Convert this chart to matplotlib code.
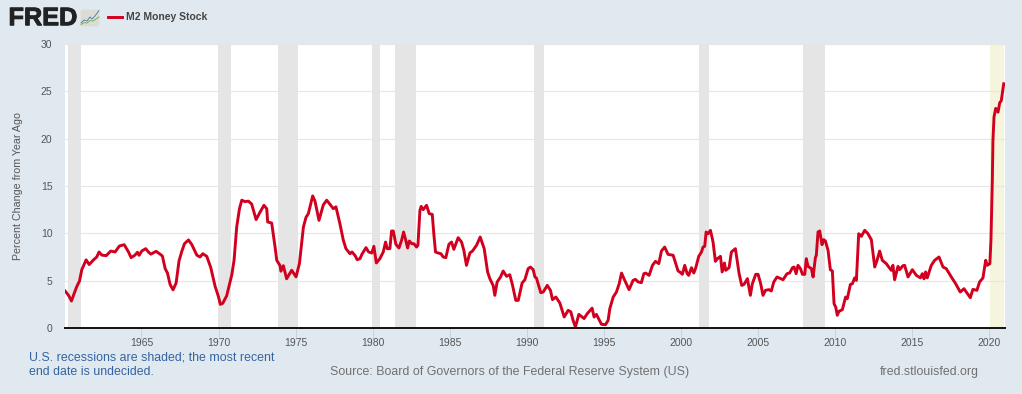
import matplotlib
matplotlib.use("Agg")
import matplotlib.pyplot as plt
import matplotlib.patheffects as pe
from matplotlib.patches import FancyBboxPatch

# dates; X_CAL aligns them with the tick positions
X_CAL = 0.05
years_read = [1960.0,1960.22,1960.41,1960.58,1960.76,1960.93,1961.08,1961.36,1961.56,1961.84,1962.05,1962.2,1962.38,1962.66,1962.96,1963.24,1963.52,1963.83,1964.11,1964.28,1964.54,1964.69,1964.8,1964.97,1965.23,1965.4,1965.56,1965.9,1966.16,1966.31,1966.49,1966.64,1966.81,1967.0,1967.2,1967.39,1967.57,1967.74,1968.0,1968.21,1968.54,1968.75,1968.93,1969.19,1969.45,1969.73,1969.94,1970.07,1970.22,1970.48,1970.81,1970.96,1971.13,1971.31,1971.46,1971.67,1971.89,1972.1,1972.39,1972.65,1972.9,1973.08,1973.14,1973.4,1973.62,1973.73,1973.94,1974.0,1974.16,1974.37,1974.7,1974.98,1975.2,1975.46,1975.63,1975.78,1976.06,1976.21,1976.47,1976.75,1976.97,1977.18,1977.4,1977.57,1977.83,
1978.05,1978.22,1978.48,1978.61,1978.8,1978.95,1979.13,1979.26,1979.52,1979.69,1979.9,1980.03,1980.19,1980.42,1980.64,1980.79,1980.9,1981.07,1981.18,1981.29,1981.46,1981.66,1981.83,1981.96,1982.09,1982.22,1982.33,1982.5,1982.63,1982.8,1982.89,1983.02,1983.1,1983.23,1983.45,1983.62,1983.82,1983.93,1984.03,1984.2,1984.38,1984.53,1984.7,1984.9,1985.07,1985.22,1985.5,1985.72,1985.87,1986.04,1986.26,1986.43,1986.69,1986.93,1987.19,1987.41,1987.56,1987.77,1987.88,1988.03,1988.25,1988.42,1988.64,1988.85,1989.03,1989.24,1989.4,1989.65,1989.83,1990.04,1990.19,1990.37,1990.48,1990.58,1990.86,1991.02,1991.28,1991.49,1991.62,1991.84,1992.1,1992.38,1992.64,1992.81,1992.96,1993.11,1993.33,1993.67,1993.87,1994.19,1994.32,1994.47,1994.8,1995.06,1995.23,1995.34,1995.56,1995.77,1995.95,1996.1,1996.31,1996.59,1996.85,1997.0,1997.18,1997.39,1997.55,1997.67,1997.89,1998.11,1998.3,1998.52,1998.69,1998.9,1999.12,1999.45,1999.77,
1999.88,2000.05,2000.2,2000.36,2000.46,2000.64,2000.79,2000.92,2001.11,2001.29,2001.39,2001.5,2001.59,2001.72,2001.87,2002.04,2002.19,2002.32,2002.52,2002.63,2002.78,2002.86,2003.08,2003.23,2003.49,2003.73,2003.9,2004.05,2004.27,2004.46,2004.59,2004.81,2004.96,2005.13,2005.28,2005.44,2005.67,2005.82,2005.98,2006.19,2006.58,2006.84,2007.01,2007.19,2007.3,2007.43,2007.55,2007.71,2007.84,2007.99,2008.09,2008.2,2008.42,2008.53,2008.68,2008.74,2008.85,2008.96,2009.11,2009.22,2009.33,2009.5,2009.65,2009.78,2009.89,2010.0,2010.1,2010.21,2010.43,2010.64,2010.75,2010.95,2011.08,2011.23,2011.34,2011.49,2011.66,2011.88,2012.09,2012.31,2012.53,2012.68,2012.85,2013.02,2013.28,2013.6,2013.71,2013.82,2014.04,2014.15,2014.36,2014.47,2014.69,2014.97,2015.23,2015.49,2015.62,2015.73,2015.83,2015.94,2016.2,2016.42,2016.7,2016.96,2017.17,2017.5,2017.78,2018.08,2018.32,2018.73,2018.9,2019.16,2019.33,2019.55,2019.73,2019.83,2020.0,2020.07,2020.16,2020.2,2020.27,2020.38,2020.53,2020.64,2020.74,2020.9]

values = [3.9,3.45,2.85,3.63,4.4,4.96,6.16,7.2,6.7,7.2,7.5,8.03,7.7,7.64,8.13,8.03,8.66,8.8,8.03,7.43,7.71,8.0,7.68,8.13,8.38,8.03,7.8,8.1,7.8,7.6,6.27,5.8,4.6,4.03,4.75,7.1,8.1,8.9,9.3,8.84,7.7,7.5,7.85,7.57,6.37,4.4,3.35,2.5,2.6,3.4,5.6,7.15,10.67,12.6,13.5,13.35,13.4,13.1,11.45,12.25,12.96,12.6,11.2,11.09,8.55,7.15,6.6,6.0,6.58,5.2,6.1,5.4,6.8,10.67,11.7,12.08,13.95,13.4,11.37,13.0,13.5,13.07,12.6,12.8,11.0,
9.26,8.38,7.85,8.03,7.68,7.22,7.32,7.8,8.49,8.03,7.92,8.63,6.87,7.32,8.03,9.08,8.38,8.38,10.25,10.25,8.84,8.45,9.26,10.14,9.33,8.45,9.19,8.9,8.9,8.55,8.73,12.43,12.85,12.5,12.96,12.08,12.0,9.79,8.03,7.92,7.85,7.5,7.43,8.84,9.08,8.31,9.54,9.08,8.2,6.62,7.92,8.13,8.73,9.61,8.38,5.92,5.2,4.5,3.45,4.86,5.39,6.02,5.46,5.63,4.5,2.92,2.92,4.75,5.1,6.27,6.44,6.16,5.39,5.28,3.73,3.8,4.5,3.98,3.0,3.27,2.64,1.16,1.87,1.7,0.8,0.1,1.44,1.0,1.5,2.1,1.16,1.44,0.39,0.35,0.8,2.04,3.27,3.8,4.68,5.8,5.03,4.05,5.03,5.14,4.86,4.79,5.74,5.8,5.56,6.62,7.04,6.8,8.13,8.55,7.78,7.68,6.02,
5.92,5.67,6.62,5.74,5.56,6.37,5.81,6.37,7.57,8.03,8.55,8.63,10.14,9.96,10.32,9.08,7.04,7.32,7.57,5.92,6.87,6.09,6.37,8.03,8.38,5.74,4.5,4.61,5.21,3.45,4.68,5.67,5.67,4.68,3.45,3.98,4.05,3.91,4.86,5.39,5.1,5.74,5.81,6.37,6.44,5.74,6.62,6.27,5.67,5.67,7.32,6.51,6.27,5.39,7.43,7.68,10.14,10.25,8.8,9.33,9.19,8.2,6.16,6.02,2.57,2.2,1.34,1.76,1.94,3.27,3.1,4.6,4.68,5.3,5.03,9.96,9.68,10.32,9.96,9.33,6.44,7.15,8.13,7.15,6.8,6.09,6.62,5.1,6.51,6.16,6.58,6.62,5.39,6.16,5.56,5.3,5.74,5.2,5.92,5.3,6.62,7.15,7.5,6.44,6.27,5.39,4.68,3.8,4.15,3.2,4.08,3.98,4.86,5.28,7.15,6.62,6.8,9.26,15.6,19.8,22.3,23.2,22.8,23.8,24.0,25.8]

recession_starts = [1960.26,1969.95,1973.86,1979.98,1981.45,1990.48,2001.15,2007.91]
recession_ends = [1961.09,1970.83,1975.14,1980.48,1982.81,1991.13,2001.81,2009.38]
undecided_start = 2020.05
x_ticks = [1965,1970,1975,1980,1985,1990,1995,2000,2005,2010,2015,2020]
y_ticks = [0,5,10,15,20,25,30]

years = [y + X_CAL for y in years_read]

W, H = 1022, 394
BG = "#e1e9f0"
RED = "#d2001f"
XMIN, XMAX = 1960.04, 2021.0
fig = plt.figure(figsize=(W/100, H/100), dpi=100, facecolor=BG)
plt.rcParams["font.family"] = ["Liberation Sans", "DejaVu Sans"]

def T(x, y, s, **kw):
    return fig.text(x/W, 1-y/H, s, **kw)

ax = fig.add_axes([65/W, 1-328/H, 939.5/W, 284/H], facecolor="white")
ax.set_xlim(XMIN, XMAX)
ax.set_ylim(0, 30)
ax.grid(axis="y", color="#e6e6e6", lw=0.8, zorder=1)
ax.set_axisbelow(True)
for s, e in zip(recession_starts, recession_ends):
    ax.axvspan(s, e, color="#e5e5e5", lw=0, zorder=1.5)
ax.axvspan(undecided_start, XMAX, color="#f5f4dc", lw=0, zorder=0.5)
ax.plot(years, values, color=RED, lw=2.1, solid_joinstyle="round", zorder=3)

for k in ("top", "left", "right"):
    ax.spines[k].set_visible(False)
ax.spines["bottom"].set_color("#111111")
ax.spines["bottom"].set_linewidth(1.4)
ax.spines["bottom"].set_zorder(4)
ax.set_xticks(x_ticks)
ax.set_yticks(y_ticks)
ax.tick_params(axis="x", length=8, width=0.7, color="#c5d3e2", labelsize=7.5, labelcolor="#555555", pad=-0.5)
ax.tick_params(axis="y", length=0, labelsize=7.5, labelcolor="#555555", pad=9)
ax.set_ylabel("Percent Change from Year Ago", fontsize=7.7, color="#555555")
ax.yaxis.set_label_coords((23-65)/939.5, 0.5)

# header
T(8.5, 18.2, "FRED", fontsize=18.2, fontweight="bold", color="#222222", va="center", ha="left",
  path_effects=[pe.withStroke(linewidth=0.7, foreground="#222222")])
icon = fig.add_axes([80/W, 1-27/H, 20/W, 18/H])
icon.axis("off"); icon.set_xlim(0, 10); icon.set_ylim(0, 9)
icon.add_patch(FancyBboxPatch((0.3, 0.3), 9.4, 8.4, boxstyle="round,pad=0,rounding_size=1",
                              fc="#dcdcd6", ec="none"))
icon.plot([0.5,2,3.5,5,6,7.5,9.5], [2,3.5,3,5,4,5.5,8.3], color="#3d7f9e", lw=0.6)
icon.plot([0.5,2,3.5,5,6.5,8,9.5], [1.2,2.2,2,3.2,3,4,5], color="#6fa84a", lw=0.6)
fig.add_artist(plt.Line2D([108/W, 122/W], [1-17/H, 1-17/H], color=RED, lw=2.1))
T(126, 17, "M2 Money Stock", fontsize=7.5, fontweight="bold", color="#444444", va="center", ha="left")

# footer
T(29, 357.5, "U.S. recessions are shaded; the most recent", fontsize=8.92, color="#3563a0", va="center")
T(29, 372, "end date is undecided.", fontsize=8.92, color="#3563a0", va="center")
T(330, 372, "Source: Board of Governors of the Federal Reserve System (US)", fontsize=8.92, color="#707070", va="center")
T(880, 372, "fred.stlouisfed.org", fontsize=8.92, color="#707070", va="center")

fig.savefig("out.png", dpi=100, facecolor=BG)
